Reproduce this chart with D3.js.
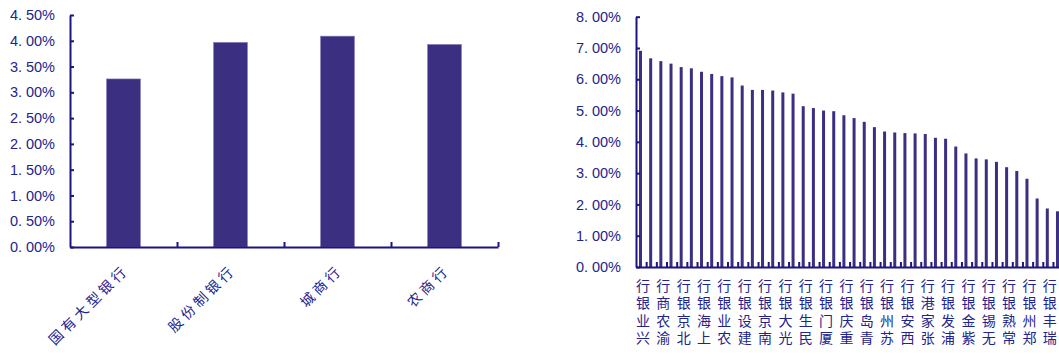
<!DOCTYPE html>
<html>
<head>
<meta charset="utf-8">
<script src="https://cdn.jsdelivr.net/npm/d3@7/dist/d3.min.js"></script>
<style>
  body { margin: 0; background: #fff; }
  svg { display: block; }
  .axis path, .axis line { stroke: #1c1480; stroke-width: 2; }
  .axis text { fill: #23238c; font-family: "Liberation Sans", Arial, sans-serif; font-size: 14.5px; }
  .cat { fill: #23238c; font-family: "Noto Sans CJK SC", sans-serif; font-size: 14px; }
</style>
</head>
<body>
<div id="chart"></div>
<script>
// left: average by bank type (%)
const bankTypes = ["国有大型银行", "股份制银行", "城商行", "农商行"];
const typeValues = [3.26, 3.97, 4.09, 3.93];
const leftTicks = [0, 0.5, 1, 1.5, 2, 2.5, 3, 3.5, 4, 4.5];

// right: individual banks (%), only every other bar carries a label
const bankLabels = ["兴业银行", "渝农商行", "北京银行", "上海银行", "农业银行", "建设银行", "南京银行",
  "光大银行", "民生银行", "厦门银行", "重庆银行", "青岛银行", "苏州银行", "西安银行", "张家港行",
  "浦发银行", "紫金银行", "无锡银行", "常熟银行", "郑州银行", "瑞丰银行"];
const bankValues = [6.91, 6.67, 6.58, 6.50, 6.39, 6.35, 6.24, 6.17, 6.10, 6.06,
  5.80, 5.66, 5.66, 5.64, 5.58, 5.54, 5.14, 5.08, 5.00, 4.98,
  4.85, 4.76, 4.64, 4.47, 4.33, 4.30, 4.28, 4.27, 4.25, 4.13,
  4.10, 3.85, 3.63, 3.47, 3.44, 3.36, 3.19, 3.07, 2.82, 2.19,
  1.87, 1.78];
const rightTicks = [0, 1, 2, 3, 4, 5, 6, 7, 8];

const barColor = "#3b2f82";

const svg = d3.select("#chart").append("svg")
    .attr("width", 1059)
    .attr("height", 356);

function pctLabels(g) {
    g.selectAll(".tick text").each(function (d) {
        const parts = d.toFixed(2).split(".");
        const t = d3.select(this).text(null);
        t.append("tspan").text(parts[0] + ".");
        t.append("tspan").attr("dx", 4).text(parts[1] + "%");
    });
}

// ---------- left chart ----------
const lx = d3.scaleBand().domain(bankTypes).range([70, 498]);
const ly = d3.scaleLinear().domain([0, 4.5]).range([247, 15]);
const lEdge = d3.scaleLinear().domain([0, bankTypes.length]).range([70, 498]);

svg.append("g").selectAll("rect")
    .data(bankTypes)
    .enter()
    .append("rect")
    .attr("x", (d) => lx(d) + (lx.bandwidth() - 34) / 2)
    .attr("width", 34)
    .attr("y", (d, i) => ly(typeValues[i]))
    .attr("height", (d, i) => ly(0) - ly(typeValues[i]))
    .attr("fill", barColor)
    .attr("stroke", "#8a84c0")
    .attr("stroke-width", 0.6);

svg.append("g")
    .attr("class", "axis")
    .attr("transform", "translate(0," + ly(0) + ")")
    .call(d3.axisBottom(lEdge).tickValues(d3.range(1, bankTypes.length + 1)).tickSizeInner(-5).tickSizeOuter(0).tickFormat(""));

svg.append("g")
    .attr("class", "axis")
    .attr("transform", "translate(70,0)")
    .call(d3.axisLeft(ly).tickValues(leftTicks).tickSizeInner(-4).tickSizeOuter(0).tickPadding(15))
    .call(pctLabels);

svg.append("g").selectAll("text")
    .data(bankTypes)
    .enter()
    .append("text")
    .attr("class", "cat")
    .attr("text-anchor", "end")
    .attr("letter-spacing", 3.6)
    .attr("transform", (d) => "translate(" + (lx(d) + lx.bandwidth() / 2 + 6) + ",271) rotate(-45)")
    .text((d) => d);

// ---------- right chart ----------
const n = bankValues.length;
const step = 10.17;
const rx = d3.scaleBand().domain(d3.range(n)).range([636, 636 + n * step]);
const ry = d3.scaleLinear().domain([0, 8]).range([267, 16.7]);
const rEdge = d3.scaleLinear().domain([0, n]).range([636, 636 + n * step]);

svg.append("g").selectAll("rect")
    .data(bankValues)
    .enter()
    .append("rect")
    .attr("x", (d, i) => rx(i) + 3)
    .attr("width", 3)
    .attr("y", (d) => ry(d))
    .attr("height", (d) => ry(0) - ry(d))
    .attr("fill", barColor);

svg.append("g")
    .attr("class", "axis")
    .attr("transform", "translate(0," + ry(0) + ")")
    .call(d3.axisBottom(rEdge).tickValues(d3.range(1, n + 1)).tickSizeInner(-5).tickSizeOuter(0).tickFormat(""));

svg.append("g")
    .attr("class", "axis")
    .attr("transform", "translate(636,0)")
    .call(d3.axisLeft(ry).tickValues(rightTicks).tickSizeInner(-4).tickSizeOuter(0).tickPadding(15))
    .call(pctLabels);

// text runs upward (rotate -90) while each glyph is turned back upright
svg.append("g").selectAll("text")
    .data(bankLabels)
    .enter()
    .append("text")
    .attr("class", "cat")
    .attr("letter-spacing", 3.5)
    .attr("rotate", 90)
    .attr("transform", (d, i) => "translate(" + rx(i * 2) + ",343) rotate(-90)")
    .text((d) => d);
</script>
</body>
</html>
